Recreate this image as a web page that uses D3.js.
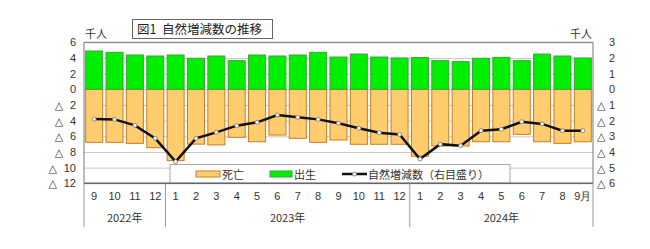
<!doctype html>
<html lang="ja">
<head>
<meta charset="utf-8">
<title>自然増減数の推移</title>
<script src="https://cdn.jsdelivr.net/npm/d3@7"></script>
<style>
  body { margin: 0; background: #fff; }
  svg { display: block; font-family: "Noto Sans CJK JP", "Noto Sans", sans-serif; }
  .grid line { stroke: #c8c8c8; stroke-width: 1px; }
  .tick text { font-size: 11px; fill: #333; }
  .tri { font-family: "DejaVu Sans", sans-serif; font-size: 10px; fill: #333; }
</style>
</head>
<body>
<svg width="650" height="249"></svg>
<script>
// data (thousand persons), Sep 2022 .. Sep 2024
var monthLabels = ["9","10","11","12","1","2","3","4","5","6","7","8","9","10","11","12","1","2","3","4","5","6","7","8","9月"];
var births  = [4.89,4.72,4.38,4.25,4.38,3.96,4.25,3.66,4.38,4.25,4.38,4.72,4.12,4.50,4.12,4.00,4.05,3.66,3.53,3.96,4.08,3.66,4.50,4.25,4.00];
var deaths  = [6.77,6.77,6.90,7.45,9.10,7.00,7.10,6.13,6.69,5.84,6.26,6.77,6.47,7.02,7.02,7.02,8.55,7.24,7.24,6.69,6.69,5.75,6.69,6.90,6.69];
var natural = [-1.90,-1.92,-2.30,-3.13,-4.62,-3.13,-2.75,-2.32,-2.11,-1.64,-1.79,-1.92,-2.17,-2.49,-2.77,-2.88,-4.45,-3.50,-3.60,-2.64,-2.55,-2.07,-2.21,-2.64,-2.64];
var years = ["2022年","2023年","2024年"];
var yearStart = [0, 4, 16];
var yearEnd   = [4, 16, 25];
var leftTicks  = [6,4,2,0,-2,-4,-6,-8,-10,-12];
var rightTicks = [3,2,1,0,-1,-2,-3,-4,-5,-6];
var seriesNames = ["死亡","出生","自然増減数（右目盛り）"];
var title = "図1  自然増減数の推移";

var svg = d3.select("svg");
var plotL = 84, plotR = 593, plotT = 42.3, plotB = 183.3;

var idx = d3.range(monthLabels.length);
var x = d3.scaleBand().domain(idx).range([plotL, plotR]).paddingInner(0.165).paddingOuter(0.0825);
var yL = d3.scaleLinear().domain([-12, 6]).range([plotB, plotT]);
var yR = d3.scaleLinear().domain([-6, 3]).range([plotB, plotT]);

// gridlines
svg.append("g")
    .attr("class", "grid")
    .attr("transform", "translate(" + plotL + ",0)")
    .call(d3.axisRight(yL).tickValues(leftTicks).tickSize(plotR - plotL).tickFormat(""))
    .call(function(g) { g.select(".domain").remove(); });

// bars
svg.append("g").selectAll("rect")
    .data(idx)
    .enter().append("rect")
    .attr("x", function(i) { return x(i); })
    .attr("width", x.bandwidth())
    .attr("y", yL(0))
    .attr("height", function(i) { return yL(-deaths[i]) - yL(0); })
    .attr("fill", "#ffcc6e")
    .attr("stroke", "#d07a1e")
    .attr("stroke-width", 1);

svg.append("g").selectAll("rect")
    .data(idx)
    .enter().append("rect")
    .attr("x", function(i) { return x(i); })
    .attr("width", x.bandwidth())
    .attr("y", function(i) { return yL(births[i]); })
    .attr("height", function(i) { return yL(0) - yL(births[i]); })
    .attr("fill", "#00ee00")
    .attr("stroke", "#3aa53a")
    .attr("stroke-width", 1);

// natural change line
var cx = function(i) { return x(i) + x.bandwidth() / 2; };
var line = d3.line()
    .x(function(i) { return cx(i); })
    .y(function(i) { return yR(natural[i]); });

svg.append("path")
    .datum(idx)
    .attr("d", line)
    .attr("fill", "none")
    .attr("stroke", "#111")
    .attr("stroke-width", 2.5);

svg.append("g").selectAll("circle")
    .data(idx)
    .enter().append("circle")
    .attr("cx", cx)
    .attr("cy", function(i) { return yR(natural[i]); })
    .attr("r", 2)
    .attr("fill", "#fff")
    .attr("stroke", "#777")
    .attr("stroke-width", 0.8);

// legend box
var lg = svg.append("g");
lg.append("rect")
    .attr("x", 170).attr("y", 164.5)
    .attr("width", 340).attr("height", plotB - 164.5)
    .attr("fill", "#fff").attr("stroke", "#aaa");
lg.append("rect").attr("x", 196).attr("y", 171).attr("width", 24).attr("height", 6)
    .attr("fill", "#ffcc6e").attr("stroke", "#d07a1e");
lg.append("text").attr("x", 222).attr("y", 178.5).attr("font-size", 11).attr("fill", "#333").text(seriesNames[0]);
lg.append("rect").attr("x", 270).attr("y", 171).attr("width", 22).attr("height", 6)
    .attr("fill", "#00ee00").attr("stroke", "#3aa53a");
lg.append("text").attr("x", 294).attr("y", 178.5).attr("font-size", 11).attr("fill", "#333").text(seriesNames[1]);
lg.append("line").attr("x1", 342).attr("x2", 367).attr("y1", 174).attr("y2", 174)
    .attr("stroke", "#111").attr("stroke-width", 2.5);
lg.append("circle").attr("cx", 354.5).attr("cy", 174).attr("r", 2)
    .attr("fill", "#fff").attr("stroke", "#777").attr("stroke-width", 0.8);
lg.append("text").attr("x", 368).attr("y", 178.5).attr("font-size", 11).attr("fill", "#333").text(seriesNames[2]);

// frame
svg.append("path")
    .attr("d", "M" + plotL + "," + plotB + "V" + plotT + "H" + plotR + "V" + plotB)
    .attr("fill", "none").attr("stroke", "#777").attr("stroke-width", 1);
svg.append("line")
    .attr("x1", plotL).attr("x2", plotR).attr("y1", plotB).attr("y2", plotB)
    .attr("stroke", "#666").attr("stroke-width", 1.5);

// left axis: digits right-aligned, small triangle marks negatives
var la = svg.append("g")
    .attr("transform", "translate(" + (plotL - 8) + ",0)")
    .call(d3.axisLeft(yL).tickValues(leftTicks).tickSize(0).tickPadding(0)
        .tickFormat(function(v) { return String(Math.abs(v)); }))
    .call(function(g) { g.select(".domain").remove(); });
la.selectAll(".tick").filter(function(v) { return v < 0; })
    .append("text")
    .attr("class", "tri")
    .attr("text-anchor", "start")
    .attr("x", function(v) { return -String(Math.abs(v)).length * 6.2 - 15; })
    .attr("dy", "0.32em")
    .text("△");

// right axis
var ra = svg.append("g")
    .attr("transform", "translate(" + (plotR + 16) + ",0)")
    .call(d3.axisRight(yR).tickValues(rightTicks).tickSize(0).tickPadding(0)
        .tickFormat(function(v) { return String(Math.abs(v)); }))
    .call(function(g) { g.select(".domain").remove(); });
ra.selectAll(".tick").filter(function(v) { return v < 0; })
    .append("text")
    .attr("class", "tri")
    .attr("text-anchor", "start")
    .attr("x", -12).attr("dy", "0.32em")
    .text("△");

// unit labels
svg.append("text").attr("x", plotL + 1).attr("y", 38).attr("font-size", 11).attr("fill", "#333").text("千人");
svg.append("text").attr("x", plotR - 1).attr("y", 38).attr("text-anchor", "end").attr("font-size", 11).attr("fill", "#333").text("千人");

// title box
svg.append("rect").attr("x", 132.5).attr("y", 19.5).attr("width", 140).attr("height", 19)
    .attr("fill", "#fff").attr("stroke", "#666");
svg.append("text").attr("x", 137).attr("y", 33.5).attr("font-size", 12.5).attr("fill", "#222")
    .attr("xml:space", "preserve").text(title);

// month labels
svg.append("g")
    .attr("transform", "translate(0," + plotB + ")")
    .call(d3.axisBottom(x).tickSize(0).tickPadding(9).tickFormat(function(i) { return monthLabels[i]; }))
    .call(function(g) { g.select(".domain").remove(); });

// year separators and labels
var step = x.step();
var bounds = [0, 4, 16, 25];
svg.append("g").selectAll("line")
    .data(bounds)
    .enter().append("line")
    .attr("x1", function(b) { return plotL + b * step; })
    .attr("x2", function(b) { return plotL + b * step; })
    .attr("y1", plotB).attr("y2", 227)
    .attr("stroke", "#999").attr("stroke-width", 1);

svg.append("g").selectAll("text")
    .data(years)
    .enter().append("text")
    .attr("x", function(d, k) { return plotL + (yearStart[k] + yearEnd[k]) / 2 * step; })
    .attr("y", 222)
    .attr("text-anchor", "middle")
    .attr("font-size", 11).attr("fill", "#333")
    .text(function(d) { return d; });
</script>
</body>
</html>
